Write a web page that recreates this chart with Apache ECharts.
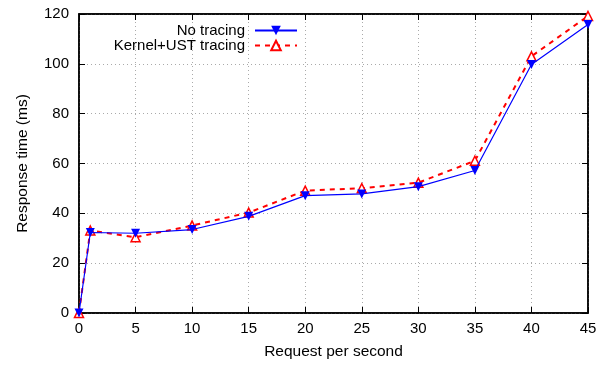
<!DOCTYPE html>
<html>
<head>
<meta charset="utf-8">
<script src="https://cdn.jsdelivr.net/npm/echarts@6/dist/echarts.min.js"></script>
<style>
    html, body { margin: 0; padding: 0; background: #fff; }
    #chart { width: 606px; height: 365px; }
</style>
</head>
<body>
<div id="chart"></div>
<script>
    // request rates (x) and response times (ms)
    const requestRate = [0, 1, 5, 10, 15, 20, 25, 30, 35, 40, 45]
    const noTracing = [0, 32.3, 32, 33.5, 38.8, 47.1, 47.8, 50.7, 57.2, 99.7, 115.8]
    const kernelUst = [0, 33.1, 30.4, 35.1, 40.3, 49.1, 50.1, 52.3, 61.1, 103, 119.2]
    const seriesNames = ['No tracing', 'Kernel+UST tracing']

    const font = 'Liberation Sans, Arial, Helvetica, sans-serif'

    const pairs = (ys) => requestRate.map((x, i) => [x, ys[i]])

    const baseAxis = {
        axisLine: { show: true, onZero: false, lineStyle: { color: '#000', width: 1.5 } },
        axisTick: { show: true, inside: true, length: 6, lineStyle: { color: '#000', width: 1 } },
        splitLine: { show: false }
    }
    const gridLine = { show: true, lineStyle: { color: '#aaa', type: [1, 3], width: 1 } }

    let option = {
        animation: false,
        textStyle: { fontFamily: font },
        grid: { left: 79, right: 18, top: 14, bottom: 52, show: true, borderColor: '#000', borderWidth: 1.5 },
        legend: {
            top: 18,
            right: 303,
            orient: 'vertical',
            align: 'right',
            itemGap: 0,
            itemWidth: 42,
            itemHeight: 12,
            textStyle: { fontSize: 15, color: '#000', fontFamily: font, padding: [0, 5, 0, 0] },
            data: seriesNames
        },
        xAxis: [
            Object.assign({}, baseAxis, {
                type: 'value',
                min: 0, max: 45, interval: 5,
                name: 'Request per second',
                nameLocation: 'middle',
                nameGap: 31,
                nameTextStyle: { fontSize: 15.5, color: '#000' },
                axisLabel: { fontSize: 15, color: '#000', margin: 8 },
                splitLine: gridLine
            }),
            Object.assign({}, baseAxis, {
                type: 'value', position: 'top',
                min: 0, max: 45, interval: 5,
                axisLabel: { show: false }
            })
        ],
        yAxis: [
            Object.assign({}, baseAxis, {
                type: 'value',
                min: 0, max: 120, interval: 20,
                name: 'Response time (ms)',
                nameLocation: 'middle',
                nameGap: 48,
                nameTextStyle: { fontSize: 15.5, color: '#000' },
                axisLabel: { fontSize: 15, color: '#000', margin: 10 },
                splitLine: gridLine
            }),
            Object.assign({}, baseAxis, {
                type: 'value', position: 'right',
                min: 0, max: 120, interval: 20,
                axisLabel: { show: false }
            })
        ],
        series: [
            {
                name: seriesNames[0],
                type: 'line',
                data: pairs(noTracing),
                symbol: 'triangle',
                symbolRotate: 180,
                symbolSize: 9,
                z: 3,
                lineStyle: { color: '#0000ff', width: 1.2 },
                itemStyle: { color: '#0000ff' }
            },
            {
                name: seriesNames[1],
                type: 'line',
                data: pairs(kernelUst),
                symbol: 'triangle',
                symbolSize: 9,
                z: 2,
                lineStyle: { color: '#ff0000', width: 2, type: [5, 5] },
                itemStyle: { color: '#fff', borderColor: '#ff0000', borderWidth: 1.5 }
            },
            {
                // empty series so the mirror axes (top/right) get drawn
                type: 'line',
                xAxisIndex: 1,
                yAxisIndex: 1,
                data: [],
                silent: true
            }
        ]
    }

    const myChart = echarts.init(document.getElementById('chart'))
    myChart.setOption(option)
</script>
</body>
</html>
